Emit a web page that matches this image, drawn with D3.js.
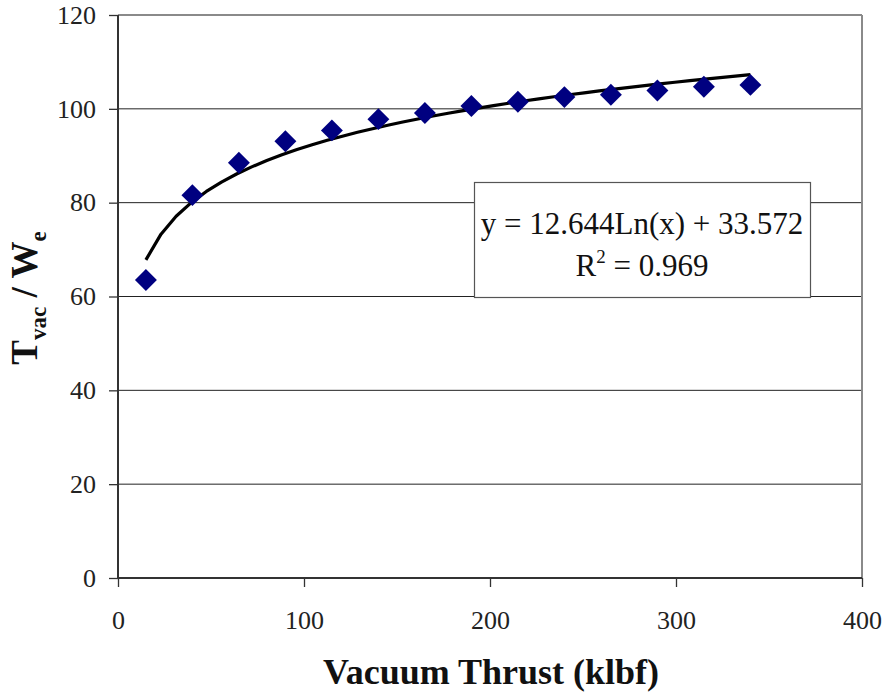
<!DOCTYPE html>
<html>
<head>
<meta charset="utf-8">
<script src="https://cdn.jsdelivr.net/npm/d3@7"></script>
<style>
  html, body { margin: 0; padding: 0; background: #fff; }
  svg { display: block; }
</style>
</head>
<body>
<svg id="chart" width="886" height="698"></svg>
<script>
// Thrust-to-weight ratio versus vacuum thrust
const thrust = [15, 40, 65, 90, 115, 140, 165, 190, 215, 240, 265, 290, 315, 340];
const ratio  = [63.5, 81.6, 88.5, 93.1, 95.4, 97.8, 99.1, 100.6, 101.5, 102.5, 103.0, 103.9, 104.7, 105.1];
const xTicks = [0, 100, 200, 300, 400];
const yTicks = [0, 20, 40, 60, 80, 100, 120];
// Logarithmic fit reported in the label box
const fitA = 12.644, fitB = 33.572, fitR2 = 0.969;
const fitSampleX = d3.range(15, 341, 8.125);

const SERIF = '"Liberation Serif", "Times New Roman", Tinos, "DejaVu Serif", "Noto Serif", serif';

const svg = d3.select("#chart").attr("font-family", SERIF);
const m = { left: 118, right: 862, top: 15, bottom: 578 };

const x = d3.scaleLinear().domain([0, 400]).range([m.left, m.right]);
const y = d3.scaleLinear().domain([0, 120]).range([m.bottom, m.top]);

// horizontal gridlines
svg.append("g")
  .selectAll("line")
  .data(yTicks.filter(v => v > 0))
  .join("line")
  .attr("x1", m.left).attr("x2", m.right)
  .attr("y1", d => y(d)).attr("y2", d => y(d))
  .attr("stroke", d => d === 120 ? "#8a8a8a" : "#222")
  .attr("stroke-width", d => d === 120 ? 2 : 1);

// right border of the plot area
svg.append("line")
  .attr("x1", m.right).attr("x2", m.right)
  .attr("y1", m.top).attr("y2", m.bottom)
  .attr("stroke", "#8a8a8a").attr("stroke-width", 2);

// axes
const xAxis = d3.axisBottom(x).tickValues(xTicks).tickSize(9).tickPadding(24);
const yAxis = d3.axisLeft(y).tickValues(yTicks).tickSize(9).tickPadding(13);

const gx = svg.append("g").attr("transform", `translate(0,${m.bottom})`).call(xAxis);
const gy = svg.append("g").attr("transform", `translate(${m.left},0)`).call(yAxis);

[gx, gy].forEach(g => {
  g.attr("font-family", SERIF).attr("font-size", 26);
  g.select(".domain").attr("stroke", "#333").attr("stroke-width", 2);
  g.selectAll(".tick line").attr("stroke", "#333").attr("stroke-width", 1.3);
  g.selectAll(".tick text").attr("fill", "#222");
});
gx.select(".domain").attr("d", `M${m.left},0H${m.right}`);
gy.select(".domain").attr("d", `M0,${m.bottom}V${m.top}`);

// fitted trend curve
const line = d3.line().x(d => x(d)).y(d => y(fitA * Math.log(d) + fitB));
svg.append("path")
  .datum(fitSampleX)
  .attr("d", line)
  .attr("fill", "none")
  .attr("stroke", "#000")
  .attr("stroke-width", 3.2)
  .attr("stroke-linejoin", "round");

// data points as diamonds
const diamond = d3.symbol().type(d3.symbolSquare).size(240);
svg.append("g")
  .selectAll("path")
  .data(thrust.map((t, i) => [t, ratio[i]]))
  .join("path")
  .attr("d", diamond)
  .attr("transform", d => `translate(${x(d[0])},${y(d[1])}) rotate(45)`)
  .attr("fill", "#000080");

// equation box
const box = svg.append("g").attr("fill", "#111");
box.append("rect")
  .attr("x", 474.5).attr("y", 182.5)
  .attr("width", 336).attr("height", 115)
  .attr("fill", "#fff").attr("stroke", "#555").attr("stroke-width", 1.2);
box.append("text")
  .attr("x", 642).attr("y", 234)
  .attr("text-anchor", "middle")
  .attr("font-size", 31)
  .text(`y = ${fitA}Ln(x) + ${fitB}`);
const r2 = box.append("text")
  .attr("x", 642).attr("y", 276)
  .attr("text-anchor", "middle")
  .attr("font-size", 31);
r2.append("tspan").text("R");
r2.append("tspan").attr("dy", -13).attr("font-size", 19).text("2");
r2.append("tspan").attr("dy", 13).text(` = ${fitR2}`);

// axis titles
svg.append("text")
  .attr("x", 491).attr("y", 684)
  .attr("text-anchor", "middle")
  .attr("font-size", 36).attr("font-weight", "bold")
  .attr("fill", "#111")
  .text("Vacuum Thrust (klbf)");

const yt = svg.append("text")
  .attr("transform", "translate(37,298) rotate(-90)")
  .attr("text-anchor", "middle")
  .attr("font-size", 37).attr("font-weight", "bold")
  .attr("fill", "#111");
yt.append("tspan").text("T");
yt.append("tspan").attr("dy", 9).attr("font-size", 23).text("vac");
yt.append("tspan").attr("dy", -9).text(" / W");
yt.append("tspan").attr("dy", 9).attr("font-size", 23).text("e");
</script>
</body>
</html>
